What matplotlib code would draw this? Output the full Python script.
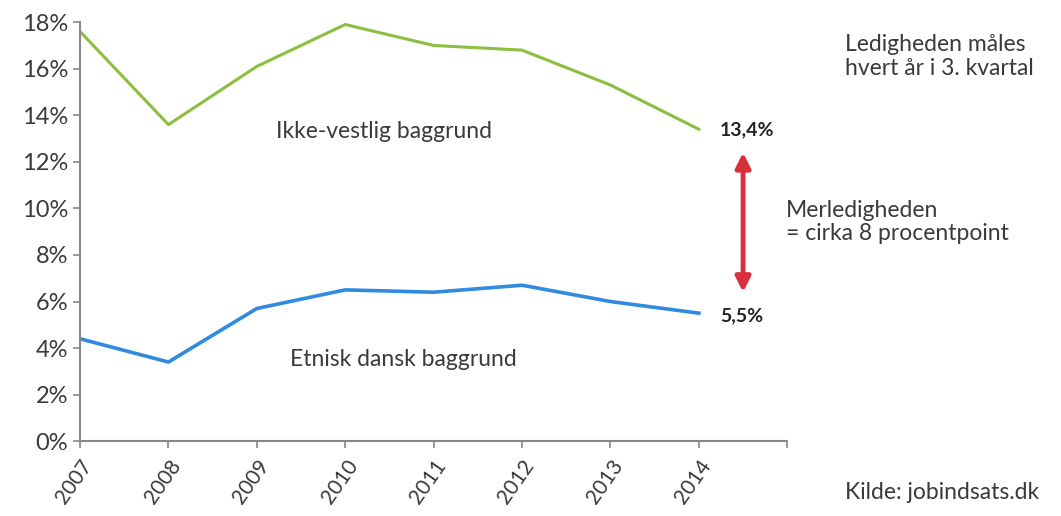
import matplotlib.pyplot as plt

# data
years = [2007, 2008, 2009, 2010, 2011, 2012, 2013, 2014]
ikke_vestlig = [17.6, 13.6, 16.1, 17.9, 17.0, 16.8, 15.3, 13.4]
etnisk_dansk = [4.4, 3.4, 5.7, 6.5, 6.4, 6.7, 6.0, 5.5]
y_ticks = [0, 2, 4, 6, 8, 10, 12, 14, 16, 18]
x_ticks = [2007, 2008, 2009, 2010, 2011, 2012, 2013, 2014, 2015]
x_labels = ['2007', '2008', '2009', '2010', '2011', '2012', '2013', '2014', '']

plt.rcParams['font.family'] = ['Lato', 'DejaVu Sans']
txt = '#3a3a3a'

fig = plt.figure(figsize=(10.61, 5.16), dpi=100)
ax = fig.add_axes([0.0754, 0.145, 0.6666, 0.812])

ax.plot(years, ikke_vestlig, color='#8cbf3f', lw=2.2)
ax.plot(years, etnisk_dansk, color='#2f8ae0', lw=2.6)

ax.set_xlim(2007, 2015)
ax.set_ylim(0, 18)
ax.set_yticks(y_ticks)
ax.set_yticklabels([f'{v}%' for v in y_ticks])
ax.set_xticks(x_ticks)
ax.set_xticklabels(x_labels, rotation=55, ha='right', rotation_mode='anchor')
ax.tick_params(axis='both', labelsize=17, colors='#888888', labelcolor=txt, length=5, width=1.2)
ax.tick_params(axis='x', labelsize=15, pad=6)
for s in ['top', 'right']:
    ax.spines[s].set_visible(False)
for s in ['left', 'bottom']:
    ax.spines[s].set_color('#888888')
    ax.spines[s].set_linewidth(1.5)

ax.text(2009.22, 13.3, 'Ikke-vestlig baggrund', fontsize=16.5, color=txt, va='center')
ax.text(2009.37, 3.5, 'Etnisk dansk baggrund', fontsize=16.5, color=txt, va='center')
ax.text(2014.24, ikke_vestlig[-1], '13,4%', fontsize=14, color='#222222', va='center', fontweight='bold')
ax.text(2014.24, etnisk_dansk[-1] - 0.1, '5,5%', fontsize=14, color='#222222', va='center', fontweight='bold')

ax.annotate('', xy=(2014.5, 12.4), xytext=(2014.5, 6.4),
            arrowprops=dict(arrowstyle='<|-|>', color='#d9303b', lw=3.5,
                            mutation_scale=22, shrinkA=0, shrinkB=0))

fig.text(0.741, 0.57, 'Merledigheden\n= cirka 8 procentpoint', fontsize=16.5, color=txt,
         va='center', linespacing=1.15)
fig.text(0.796, 0.89, 'Ledigheden måles\nhvert år i 3. kvartal', fontsize=16.5, color=txt,
         va='center', linespacing=1.15)
fig.text(0.796, 0.045, 'Kilde: jobindsats.dk', fontsize=16.5, color=txt, va='center')

plt.savefig('out.png', dpi=100)
